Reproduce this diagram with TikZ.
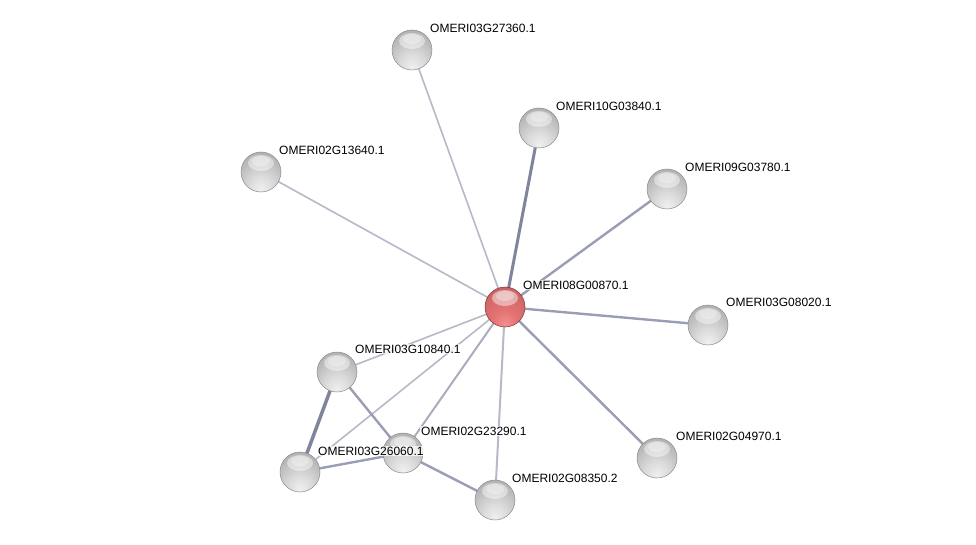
\documentclass[tikz,border=0pt]{standalone}
\usepackage{fontspec}
\setmainfont{Liberation Sans}
\usetikzlibrary{backgrounds,calc}
\pgfdeclareradialshading{greyball}{\pgfpoint{0bp}{-22bp}}{%
  color(0bp)=(white!94!black); color(14bp)=(white!86!black); color(30bp)=(white!74!black);
  color(44bp)=(white!66!black); color(58bp)=(white!58!black); color(68bp)=(white!45!black); color(90bp)=(white!38!black)}
\pgfdeclareradialshading{redball}{\pgfpoint{0bp}{-22bp}}{%
  color(0bp)=(red!40!white!95!black); color(14bp)=(red!50!white!90!black); color(30bp)=(red!50!white!82!black);
  color(44bp)=(red!50!white!75!black); color(58bp)=(red!50!white!66!black); color(68bp)=(red!55!black!80!white); color(90bp)=(red!50!black)}
\definecolor{edgeA}{HTML}{80859B}
\definecolor{edgeB}{HTML}{9A9EB4}
\definecolor{edgeC}{HTML}{B8B9C8}
\tikzset{
  x=1pt, y=-1pt,
  ballbase/.style={circle, minimum size=40pt, inner sep=0pt, draw=black!45, line width=0.5pt,
    path picture={\fill[white,opacity=0.45] ([yshift=9pt]path picture bounding box.center) ellipse (13pt and 8pt);
                  \fill[white,opacity=0.3] ([yshift=11pt]path picture bounding box.center) ellipse (9pt and 5pt);}},
  greynode/.style={ballbase, shading=greyball},
  rednode/.style={ballbase, shading=redball, draw=red!40!black!80},
  lbl/.style={anchor=west, font=\fontsize{12}{14}\selectfont, fill=white, fill opacity=0.75, text opacity=1, inner sep=1pt},
  eA/.style={draw=edgeA, line width=3pt},
  eB/.style={draw=edgeB, line width=2.4pt},
  eC/.style={draw=edgeC, line width=1.6pt},
}
\begin{document}
\begin{tikzpicture}
\useasboundingbox (0,0) rectangle (976,545);
% nodes
\node[rednode]  (c)  at (505,307) {};
\node[greynode] (n1) at (412,50)  {};
\node[greynode] (n2) at (539,128) {};
\node[greynode] (n3) at (261,172) {};
\node[greynode] (n4) at (667,189) {};
\node[greynode] (n5) at (708,325) {};
\node[greynode] (n6) at (337,372) {};
\node[greynode] (n7) at (403,453) {};
\node[greynode] (n8) at (300,472) {};
\node[greynode] (n9) at (495,500) {};
\node[greynode] (n10) at (657,458) {};
% labels
\node[lbl] (l0) at (522,285) {OMERI08G00870.1};
\node[lbl] (l1) at (429,28) {OMERI03G27360.1};
\node[lbl] (l2) at (555,106) {OMERI10G03840.1};
\node[lbl] (l3) at (278,150) {OMERI02G13640.1};
\node[lbl] (l4) at (684,167) {OMERI09G03780.1};
\node[lbl] (l5) at (725,302) {OMERI03G08020.1};
\node[lbl] (l6) at (354,349) {OMERI03G10840.1};
\node[lbl] (l7) at (420,431) {OMERI02G23290.1};
\node[lbl] (l8) at (317,451) {OMERI03G26060.1};
\node[lbl] (l9) at (511,478) {OMERI02G08350.2};
\node[lbl] (l10) at (675,436) {OMERI02G04970.1};
% edges
\begin{scope}[on background layer]
\fill[white] (0,0) rectangle (976,545);
\draw[eC] (c.center) -- (n1.center);
\draw[eA] (c.center) -- (n2.center);
\draw[eC] (c.center) -- (n3.center);
\draw[eB] (c.center) -- (n4.center);
\draw[eB] (c.center) -- (n5.center);
\draw[eB] (c.center) -- (n10.center);
\draw[eC, line width=2pt] (c.center) -- (n9.center);
\draw[eB, line width=2pt, draw=edgeB!85!white] (c.center) -- (n7.center);
\draw[eC] (c.center) -- (n6.center);
\draw[eC] (c.center) -- (n8.center);
\draw[eA, line width=3.5pt] (n6.center) -- (n8.center);
\draw[eB] (n6.center) -- (n7.center);
\draw[eB] (n8.center) -- (n7.center);
\draw[eB] (n7.center) -- (n9.center);
\end{scope}
\end{tikzpicture}
\end{document}
